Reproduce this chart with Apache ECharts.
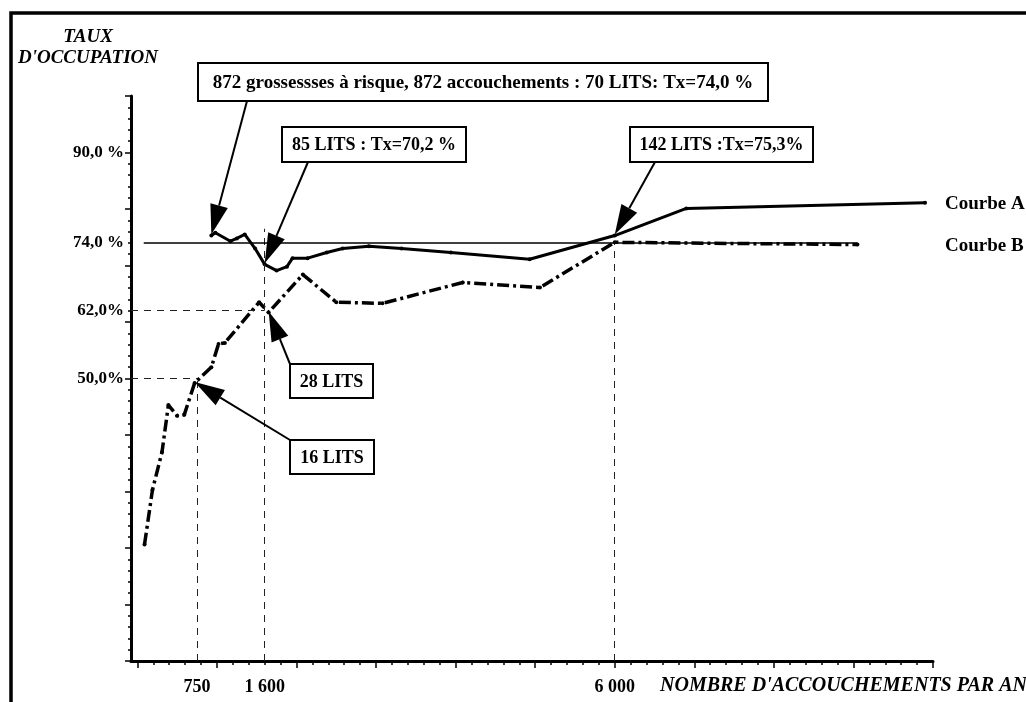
<!DOCTYPE html>
<html>
<head>
<meta charset="utf-8">
<script src="https://cdn.jsdelivr.net/npm/echarts@6/dist/echarts.min.js"></script>
<style>
  html, body { margin: 0; padding: 0; background: #fff; }
  #chart { width: 1026px; height: 702px; }
</style>
</head>
<body>
<div id="chart"></div>
<script>
// courbe A : trait plein
var courbeA_x = [930, 980, 1170, 1250, 1350, 1480, 1600, 1750, 1880, 1950, 2140, 2380, 2580, 2910, 3320, 3940, 4930, 6000, 6900, 9900];
var courbeA_y = [75.3, 75.8, 74.3, 74.8, 75.5, 73.0, 70.2, 69.1, 69.8, 71.3, 71.3, 72.3, 73.0, 73.4, 73.0, 72.3, 71.1, 75.3, 80.1, 81.1];
// courbe B : trait mixte
var courbeB_x = [90, 190, 310, 390, 500, 590, 720, 930, 1020, 1100, 1530, 1650, 2080, 2500, 3080, 4090, 5060, 6000, 9050];
var courbeB_y = [20.6, 30.3, 37.0, 45.3, 43.4, 43.6, 49.2, 52.0, 56.1, 56.3, 63.5, 61.7, 68.4, 63.5, 63.3, 67.0, 66.1, 74.1, 73.7];

// graduations
var xTickValues = [750, 1600, 6000];
var xTickLabels = ['750', '1 600', '6 000'];
var yTickValues = [50, 62, 74, 90];
var yTickLabels = ['50,0%', '62,0%', '74,0 %', '90,0 %'];

// lignes de repere (pointilles)
var refLevel = 74;            // taux cible
var refLineFrom = 80, refLineTo = 9050;
var guideX = [750, 1600, 6000];
var guideXTop = [50, 76.5, 74];
var guideY = [50, 62];
var guideYTo = [750, 1600];

// annotations : texte, courbe visee, indice du point
var noteTexts = [
  "872 grossessses à risque, 872 accouchements : 70 LITS: Tx=74,0 %",
  "85 LITS : Tx=70,2 %",
  "142 LITS :Tx=75,3%",
  "28 LITS",
  "16 LITS"
];
var noteCurve = ['A', 'A', 'A', 'B', 'B'];
var notePoint = [0, 6, 17, 11, 6];

var X_MIN = -80, X_MAX = 10000;
var FONT = "'Liberation Serif', 'DejaVu Serif', serif";

function zip(xs, ys) {
  var out = [];
  for (var i = 0; i < xs.length; i++) out.push([xs[i], ys[i]]);
  return out;
}
function steps(from, to, step) {
  var out = [];
  for (var v = from; v <= to; v += step) out.push(v);
  return out;
}

var guideLines = [];
for (var i = 0; i < guideX.length; i++) {
  guideLines.push([{ coord: [guideX[i], 0] }, { coord: [guideX[i], guideXTop[i]] }]);
}
for (var j = 0; j < guideY.length; j++) {
  guideLines.push([{ coord: [X_MIN, guideY[j]] }, { coord: [guideYTo[j], guideY[j]] }]);
}
guideLines.push([
  { coord: [refLineFrom, refLevel], lineStyle: { type: 'solid', width: 1.5, color: '#000' } },
  { coord: [refLineTo, refLevel] }
]);

var chart = echarts.init(document.getElementById('chart'));

var option = {
  animation: false,
  backgroundColor: '#fff',
  textStyle: { fontFamily: FONT, color: '#000' },
  grid: { left: 131, top: 96, right: 93, bottom: 41 },
  xAxis: [
    {
      type: 'value', min: X_MIN, max: X_MAX,
      axisLine: { show: true, onZero: false, lineStyle: { color: '#000', width: 3 } },
      axisTick: { show: true, customValues: steps(0, 10000, 200), length: 4, lineStyle: { color: '#000', width: 1.5 } },
      axisLabel: {
        customValues: xTickValues, margin: 17,
        fontFamily: FONT, fontWeight: 'bold', fontSize: 18, color: '#000',
        formatter: function (v) { return xTickLabels[xTickValues.indexOf(v)]; }
      },
      splitLine: { show: false }
    },
    {
      type: 'value', min: X_MIN, max: X_MAX, position: 'bottom',
      axisLine: { show: false, onZero: false },
      axisTick: { show: true, customValues: steps(0, 10000, 1000), length: 7, lineStyle: { color: '#000', width: 1.5 } },
      axisLabel: { show: false },
      splitLine: { show: false }
    }
  ],
  yAxis: [
    {
      type: 'value', min: 0, max: 100,
      axisLine: { show: true, onZero: false, lineStyle: { color: '#000', width: 3 } },
      axisTick: { show: true, customValues: steps(0, 100, 10), length: 6, lineStyle: { color: '#000', width: 1.5 } },
      axisLabel: {
        customValues: yTickValues, margin: 7,
        fontFamily: FONT, fontWeight: 'bold', fontSize: 17, color: '#000',
        formatter: function (v) { return yTickLabels[yTickValues.indexOf(v)]; }
      },
      splitLine: { show: false }
    },
    {
      type: 'value', min: 0, max: 100, position: 'left',
      axisLine: { show: false, onZero: false },
      axisTick: { show: true, customValues: steps(0, 100, 2), length: 3, lineStyle: { color: '#000', width: 1.5 } },
      axisLabel: { show: false },
      splitLine: { show: false }
    }
  ],
  series: [
    {
      name: 'Courbe A', type: 'line',
      data: zip(courbeA_x, courbeA_y),
      symbol: 'circle', symbolSize: 4,
      itemStyle: { color: '#000' },
      lineStyle: { color: '#000', width: 3 },
      z: 4
    },
    {
      name: 'Courbe B', type: 'line',
      data: zip(courbeB_x, courbeB_y),
      symbol: 'circle', symbolSize: 4,
      itemStyle: { color: '#000' },
      lineStyle: { color: '#000', width: 3.5, type: [12, 4, 3, 4] },
      z: 3,
      markLine: {
        silent: true, symbol: ['none', 'none'],
        label: { show: false },
        lineStyle: { color: '#222', width: 1, type: [7, 6] },
        data: guideLines
      }
    }
  ]
};
chart.setOption(option);

// boites d'annotation (positions en pixels)
var boxes = [
  { x: 198, y: 63, w: 570, h: 38 },
  { x: 282, y: 127, w: 184, h: 35 },
  { x: 630, y: 127, w: 183, h: 35 },
  { x: 290, y: 364, w: 83, h: 34 },
  { x: 290, y: 440, w: 84, h: 34 }
];
var arrowFrom = [[247, 101], [308, 162], [655, 162], [290, 364], [290, 440]];

function arrow(x1, y1, x2, y2) {
  var dx = x2 - x1, dy = y2 - y1, L = Math.sqrt(dx * dx + dy * dy);
  var ux = dx / L, uy = dy / L, hl = 30, hw = 9;
  var bx = x2 - ux * hl, by = y2 - uy * hl;
  return [
    { type: 'line', shape: { x1: x1, y1: y1, x2: bx, y2: by }, style: { stroke: '#000', lineWidth: 2 }, z: 10 },
    { type: 'polygon', shape: { points: [[x2, y2], [bx - uy * hw, by + ux * hw], [bx + uy * hw, by - ux * hw]] }, style: { fill: '#000' }, z: 10 }
  ];
}

var graphics = [
  // cadre
  { type: 'rect', shape: { x: 11, y: 13, width: 1100, height: 800 }, style: { fill: 'none', stroke: '#000', lineWidth: 3.5 }, z: 10 },
  { type: 'text', x: 88, y: 37, style: { text: 'TAUX', font: 'italic bold 19px ' + FONT, fill: '#000', textAlign: 'center', textVerticalAlign: 'middle' }, z: 10 },
  { type: 'text', x: 88, y: 58, style: { text: "D'OCCUPATION", font: 'italic bold 19px ' + FONT, fill: '#000', textAlign: 'center', textVerticalAlign: 'middle' }, z: 10 },
  { type: 'text', x: 660, y: 686, style: { text: "NOMBRE D'ACCOUCHEMENTS PAR AN", font: 'italic bold 20px ' + FONT, fill: '#000', textAlign: 'left', textVerticalAlign: 'middle' }, z: 10 }
];

var endA = chart.convertToPixel({ gridIndex: 0 }, [courbeA_x[courbeA_x.length - 1], courbeA_y[courbeA_y.length - 1]]);
var endB = chart.convertToPixel({ gridIndex: 0 }, [courbeB_x[courbeB_x.length - 1], courbeB_y[courbeB_y.length - 1]]);
graphics.push({ type: 'text', x: 945, y: endA[1] + 1, style: { text: 'Courbe A', font: 'bold 19px ' + FONT, fill: '#000', textVerticalAlign: 'middle' }, z: 10 });
graphics.push({ type: 'text', x: 945, y: endB[1] + 1, style: { text: 'Courbe B', font: 'bold 19px ' + FONT, fill: '#000', textVerticalAlign: 'middle' }, z: 10 });

for (var k = 0; k < noteTexts.length; k++) {
  var b = boxes[k];
  graphics.push({ type: 'rect', shape: { x: b.x, y: b.y, width: b.w, height: b.h }, style: { fill: '#fff', stroke: '#000', lineWidth: 2 }, z: 11 });
  graphics.push({ type: 'text', x: b.x + b.w / 2, y: b.y + b.h / 2 + 1, style: { text: noteTexts[k], font: 'bold ' + (k === 0 ? 19 : 18) + 'px ' + FONT, fill: '#000', textAlign: 'center', textVerticalAlign: 'middle' }, z: 12 });
  var px = noteCurve[k] === 'A' ? courbeA_x : courbeB_x;
  var py = noteCurve[k] === 'A' ? courbeA_y : courbeB_y;
  var tip = chart.convertToPixel({ gridIndex: 0 }, [px[notePoint[k]], py[notePoint[k]]]);
  graphics = graphics.concat(arrow(arrowFrom[k][0], arrowFrom[k][1], tip[0], tip[1] - 1));
}

chart.setOption({ graphic: graphics });
window.addEventListener('resize', function () { chart.resize(); });
</script>
</body>
</html>
